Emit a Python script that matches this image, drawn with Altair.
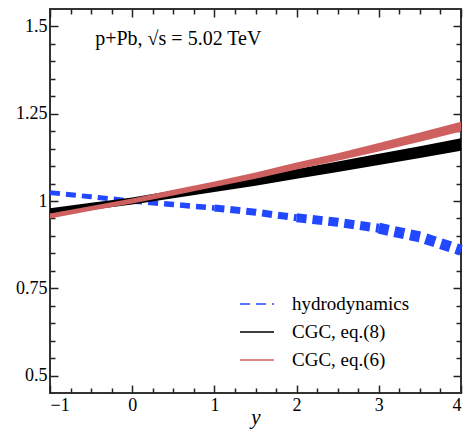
import altair as alt
import pandas as pd

# ---- data ----
xs = [-1, -0.5, 0, 0.5, 1, 1.5, 2, 2.5, 3, 3.5, 4]
hydro = [1.024, 1.012, 1.0, 0.990, 0.980, 0.968, 0.952, 0.939, 0.922, 0.897, 0.859]
hydro_width = [5, 5.5, 7, 9, 11]  # band thickness per unit interval of y

cgc8_mid = [0.969, 0.985, 1.0, 1.019, 1.038, 1.057, 1.078, 1.098, 1.119, 1.140, 1.162]
cgc8_half = [0.010, 0.010, 0.010, 0.011, 0.012, 0.013, 0.014, 0.015, 0.016, 0.017, 0.018]
cgc6_mid = [0.957, 0.979, 1.0, 1.024, 1.048, 1.073, 1.100, 1.126, 1.154, 1.183, 1.213]
cgc6_half = [0.007, 0.007, 0.007, 0.008, 0.008, 0.009, 0.010, 0.011, 0.012, 0.013, 0.014]

series_names = ["hydrodynamics", "CGC, eq.(8)", "CGC, eq.(6)"]
series_colors = ["#2248ff", "#000000", "#cf6060"]

x_major = [-1, 0, 1, 2, 3, 4]
x_minor = [-0.75, -0.5, -0.25, 0.25, 0.5, 0.75, 1.25, 1.5, 1.75,
           2.25, 2.5, 2.75, 3.25, 3.5, 3.75]
y_major = [0.5, 0.75, 1.0, 1.25, 1.5]
y_minor = [0.55, 0.6, 0.65, 0.7, 0.8, 0.85, 0.9, 0.95, 1.05, 1.1, 1.15, 1.2,
           1.3, 1.35, 1.4, 1.45]

ann_x = [-0.45]
ann_y = [1.465]
ann_text = ["p+Pb, \u221as = 5.02 TeV"]

# ---- tables ----
band8 = pd.DataFrame({"x": xs,
                      "lo": [m - h for m, h in zip(cgc8_mid, cgc8_half)],
                      "hi": [m + h for m, h in zip(cgc8_mid, cgc8_half)]})
band6 = pd.DataFrame({"x": xs,
                      "lo": [m - h for m, h in zip(cgc6_mid, cgc6_half)],
                      "hi": [m + h for m, h in zip(cgc6_mid, cgc6_half)]})

rows = []
for k, w in enumerate(hydro_width):
    a, b = -1 + k, k
    for x, y in zip(xs, hydro):
        if a <= x <= b:
            rows.append({"series": series_names[0], "x": x, "y": y, "grp": f"h{k}", "w": w})
for x, y in zip(xs, cgc8_mid):
    rows.append({"series": series_names[1], "x": x, "y": y, "grp": "c8", "w": 1})
for x, y in zip(xs, cgc6_mid):
    rows.append({"series": series_names[2], "x": x, "y": y, "grp": "c6", "w": 1})
lines = pd.DataFrame(rows)
ann = pd.DataFrame({"x": ann_x, "y": ann_y, "t": ann_text})

FONT = "Liberation Serif"
xsc = alt.Scale(domain=[-1, 4], nice=False, zero=False)
ysc = alt.Scale(domain=[0.45, 1.55], nice=False, zero=False)


def axis(orient, values, size, labels=False, title=None, **kw):
    args = dict(orient=orient, values=values, tickSize=size, offset=-size,
                domain=False, grid=False, labels=labels, tickColor="#222",
                tickWidth=1.5, ticks=True)
    if labels:
        args.update(labelFont=FONT, labelFontSize=18, labelColor="black",
                    labelExpr="format(datum.value, '~g')", labelPadding=3)
    if title is not None:
        args.update(title=title, titleFont=FONT, titleFontSize=21,
                    titleFontStyle="italic", titleFontWeight="normal",
                    titleColor="black", titleBaseline="alphabetic", titleY=38)
    else:
        args.update(title=None)
    args.update(kw)
    return alt.Axis(**args)


line_layer = alt.Chart(lines).mark_line(strokeCap="butt").encode(
    x=alt.X("x:Q", scale=xsc, axis=axis("top", x_major, 8)),
    y=alt.Y("y:Q", scale=ysc, axis=axis("right", y_major, 8)),
    color=alt.Color("series:N", title=None,
                    scale=alt.Scale(domain=series_names, range=series_colors)),
    strokeDash=alt.StrokeDash("series:N", title=None,
                              scale=alt.Scale(domain=series_names,
                                              range=[[10, 6], [1, 0], [1, 0]])),
    size=alt.Size("w:Q", scale=None, legend=None),
    detail="grp:N",
)

black_band = alt.Chart(band8).mark_area(color="#000000").encode(
    x=alt.X("x:Q", scale=xsc, axis=axis("bottom", x_major, 8, labels=True, title="y")),
    y=alt.Y("lo:Q", scale=ysc, axis=axis("left", y_major, 8, labels=True)),
    y2="hi:Q",
)

red_band = alt.Chart(band6).mark_area(color="#cf6060").encode(
    x=alt.X("x:Q", scale=xsc, axis=axis("bottom", x_minor, 5)),
    y=alt.Y("lo:Q", scale=ysc, axis=axis("left", y_minor, 5)),
    y2="hi:Q",
)

text_layer = alt.Chart(ann).mark_text(
    align="left", baseline="middle", font=FONT, fontSize=20, color="black"
).encode(
    x=alt.X("x:Q", scale=xsc, axis=axis("top", x_minor, 5)),
    y=alt.Y("y:Q", scale=ysc, axis=axis("right", y_minor, 5)),
    text="t:N",
)

chart = alt.layer(line_layer, black_band, red_band, text_layer).resolve_axis(
    x="independent", y="independent"
).properties(
    width=411, height=384,
    padding={"left": 50, "top": 9, "right": 5, "bottom": 39},
    autosize="none",
).configure_view(
    stroke="#333", strokeWidth=2
).configure_legend(
    orient="none", legendX=189, legendY=277, padding=0,
    symbolType="stroke", symbolSize=1156, symbolStrokeWidth=1.5,
    labelFont=FONT, labelFontSize=19, labelColor="black", labelOffset=17,
    rowPadding=-10.5,
)

chart.save("out.html", embed_options={"renderer": "svg", "actions": False})
